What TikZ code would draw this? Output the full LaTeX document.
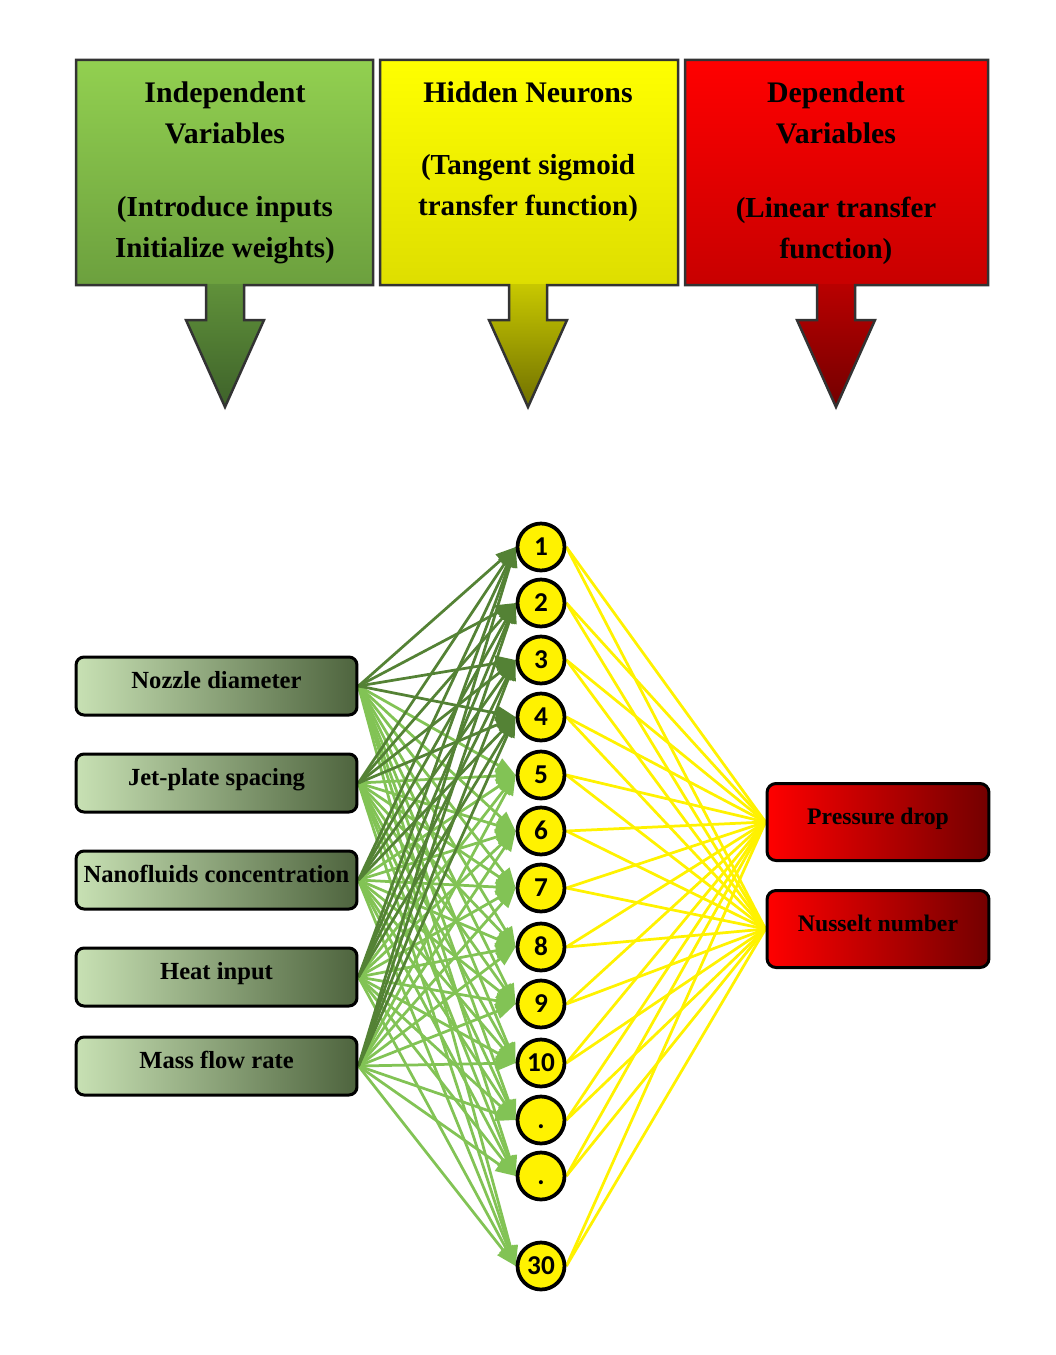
\documentclass[tikz,border=0pt]{standalone}
\usepackage{fontspec}
\setmainfont{Liberation Serif}
\newfontfamily\numfont{Carlito}
\usetikzlibrary{arrows.meta}

\definecolor{gTop}{RGB}{146,208,80}
\definecolor{gMid}{RGB}{108,160,62}
\definecolor{gArr}{RGB}{96,145,58}
\definecolor{gTip}{RGB}{62,98,42}
\definecolor{yTop}{RGB}{255,255,0}
\definecolor{yMid}{RGB}{222,222,0}
\definecolor{yArr}{RGB}{200,200,0}
\definecolor{yTip}{RGB}{112,112,0}
\definecolor{rTop}{RGB}{255,0,0}
\definecolor{rMid}{RGB}{200,0,0}
\definecolor{rArr}{RGB}{185,0,0}
\definecolor{rTip}{RGB}{115,0,0}
\definecolor{inLeft}{RGB}{200,225,180}
\definecolor{inRight}{RGB}{78,100,62}
\definecolor{outRight}{RGB}{115,0,0}
\definecolor{wDark}{RGB}{84,130,53}
\definecolor{wLight}{RGB}{130,195,85}

\pgfdeclarelayer{bg}
\pgfsetlayers{bg,main}

\tikzset{
    inbox/.style={draw=black, line width=0.06cm, rounded corners=0.16cm,
        minimum width=5.62cm, minimum height=1.16cm,
        text height=0.3cm, text depth=0.2cm,
        left color=inLeft, right color=inRight,
        font=\fontsize{14}{16}\selectfont\bfseries},
    outbox/.style={draw=black, line width=0.06cm, rounded corners=0.18cm,
        minimum width=4.44cm, minimum height=1.54cm,
        text height=0.3cm, text depth=0.2cm,
        left color=rTop, right color=outRight,
        font=\fontsize{13.5}{16}\selectfont\bfseries},
    neuron/.style={circle, draw=black, line width=0.075cm, fill=yellow,
        minimum size=0.94cm, inner sep=0pt, text height=0.345cm, text depth=0pt,
        font=\numfont\fontsize{15.5}{17}\selectfont\bfseries},
    toptext/.style={align=center, font=\fontsize{17}{23.3}\selectfont\bfseries},
    subtext/.style={align=center, font=\fontsize{16.5}{23.3}\selectfont\bfseries},
    callout/.style={draw=black!80, line width=0.05cm},
    lnkdark/.style={draw=wDark, line width=0.055cm, -{Triangle[length=0.4cm, width=0.3cm]}},
    lnklight/.style={draw=wLight, line width=0.055cm, -{Triangle[length=0.4cm, width=0.3cm]}},
    ylink/.style={draw=yellow, line width=0.055cm}
}

\begin{document}
\begin{tikzpicture}[x=0.02cm, y=-0.02cm]
    \useasboundingbox (0,0) rectangle (1055,1355);

    % top boxes with down arrows
    \foreach \cx/\lx/\rx/\ca/\cb/\cc/\cd in {225/76/373/gTop/gMid/gArr/gTip,
        528/380/678/yTop/yMid/yArr/yTip, 836/685/988/rTop/rMid/rArr/rTip} {
        \shade[top color=\ca, bottom color=\cb] (\lx,60) rectangle (\rx,285);
        \shade[top color=\cc, bottom color=\cd] ({\cx-19},284) -- ({\cx+19},284)
            -- ({\cx+19},320) -- ({\cx+39},320) -- (\cx,407) -- ({\cx-39},320)
            -- ({\cx-19},320) -- cycle;
        \draw[callout] (\lx,60) -- (\rx,60) -- (\rx,285) -- ({\cx+19},285)
            -- ({\cx+19},320) -- ({\cx+39},320) -- (\cx,407) -- ({\cx-39},320)
            -- ({\cx-19},320) -- ({\cx-19},285) -- (\lx,285) -- cycle;
    }
    \node[toptext] (indep) at (225,113) {Independent\\Variables};
    \node[subtext] (indepsub) at (225,230) {(Introduce inputs\\Initialize weights)};
    \node[toptext] (hidden) at (528,92) {Hidden Neurons};
    \node[subtext] (hiddensub) at (528,188) {(Tangent sigmoid\\transfer function)};
    \node[toptext] (dep) at (836,113) {Dependent\\Variables};
    \node[subtext] (depsub) at (836,231) {(Linear transfer\\function)};

    % inputs
    \foreach \i/\y/\t in {1/686/Nozzle diameter, 2/783/Jet-plate spacing,
        3/880/Nanofluids concentration, 4/977/Heat input, 5/1066/Mass flow rate}
        \node[inbox] (in\i) at (216.5,\y) {\t};

    % hidden neurons
    \foreach \n/\y/\t in {1/547/1, 2/603/2, 3/660/3, 4/717/4, 5/775/5, 6/831/6,
        7/888/7, 8/947/8, 9/1004/9, 10/1063/10, 11/1120/., 12/1176/., 30/1266/30}
        \node[neuron] (h\n) at (541,\y) {\t};

    % outputs
    \node[outbox] (out1) at (878,822) {Pressure drop};
    \node[outbox] (out2) at (878,929) {Nusselt number};

    \begin{pgfonlayer}{bg}
        \foreach \i in {1,...,5}
            \foreach \h in {5,...,12,30}
                \draw[lnklight] (in\i.east) -- (h\h.west);
        \foreach \i in {1,...,5}
            \foreach \h in {1,...,4}
                \draw[lnkdark] (in\i.east) -- (h\h.west);
        \foreach \h in {1,...,12,30}
            \foreach \o in {1,2}
                \draw[ylink] (h\h.east) -- (out\o.west);
    \end{pgfonlayer}
\end{tikzpicture}
\end{document}
